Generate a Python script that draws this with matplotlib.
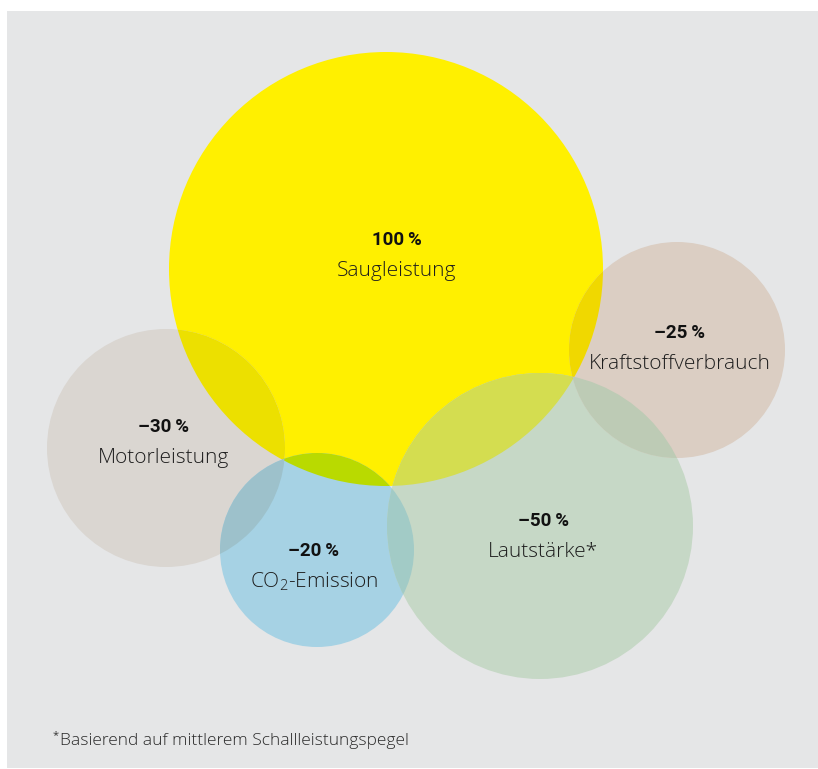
import matplotlib
matplotlib.use("Agg")
import matplotlib.pyplot as plt
from matplotlib.patches import Circle, Rectangle

plt.rcParams['font.family'] = ['Open Sans', 'DejaVu Sans']
plt.rcParams['mathtext.fontset'] = 'custom'
plt.rcParams['mathtext.rm'] = 'Open Sans:light'
plt.rcParams['mathtext.it'] = 'Open Sans:light'

# values
labels = ['Saugleistung', 'Motorleistung', 'CO$_2$-Emission',
          'Lautstärke*', 'Kraftstoffverbrauch']
values = ['100\u2009%', '–30\u2009%', '–20\u2009%', '–50\u2009%', '–25\u2009%']
footnote = 'Basierend auf mittlerem Schallleistungspegel'

# circle layout in pixel units (x, y from top-left)
cx = [386, 166, 317, 540, 677]
cy = [269, 448, 550, 526, 350]
radius = [217, 119, 97, 153, 108]
colors = ['#fff000', '#dad6d1', '#a6d2e4', '#c6d8c6', '#dbcec3']

# colour where two circles overlap
lens_colors = {
    (0, 1): '#ece000',
    (0, 2): '#b9da00',
    (0, 3): '#d4dd50',
    (0, 4): '#f0d800',
    (1, 2): '#9dc1cb',
    (2, 3): '#a2cbc6',
    (3, 4): '#bdcbb5',
}

W, H = 818, 769
fig = plt.figure(figsize=(W / 100, H / 100), dpi=100)
ax = fig.add_axes([0, 0, 1, 1])
ax.set_xlim(0, W)
ax.set_ylim(H, 0)
ax.axis('off')

# grey panel
ax.add_patch(Rectangle((7, 11), W - 7, H - 12, facecolor='#e5e6e7',
                       edgecolor='none', zorder=0))

for i in range(len(labels)):
    ax.add_patch(Circle((cx[i], cy[i]), radius[i], facecolor=colors[i],
                        edgecolor='none', zorder=1))

for (i, j), col in lens_colors.items():
    clip = Circle((cx[i], cy[i]), radius[i])
    clip.set_transform(ax.transData)
    lens = Circle((cx[j], cy[j]), radius[j], facecolor=col,
                  edgecolor='none', zorder=2)
    ax.add_patch(lens)
    lens.set_clip_path(clip)

# label positions (centre of text block)
tx = [397, 164, 314, 543, 680]
ty = [240, 427, 551, 521, 333]
for i in range(len(labels)):
    ax.text(tx[i], ty[i], values[i], ha='center', va='center',
            fontsize=13.5, fontweight='bold', color='#111111', zorder=3,
            family=['Roboto', 'DejaVu Sans'])
    ax.text(tx[i], ty[i] + 31, labels[i], ha='center', va='center',
            fontsize=15, fontweight='light', color='#1e1e1e', zorder=3)

ax.text(53, 736, '*', ha='left', va='center', fontsize=8,
        color='#333333', zorder=3)
ax.text(60, 741, footnote, ha='left', va='center', fontsize=12.5,
        fontweight='light', color='#2a2a2a', zorder=3)

fig.savefig('out.png', dpi=100)
